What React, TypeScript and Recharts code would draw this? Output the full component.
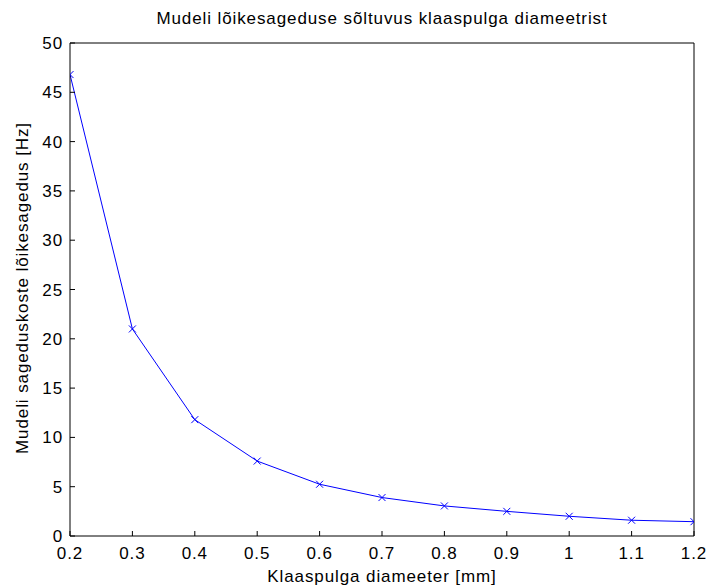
import { LineChart, Line, XAxis, YAxis, Label } from 'recharts';

// diameter of the glass rod [mm] and model cutoff frequency [Hz]
const diameters = [0.2, 0.3, 0.4, 0.5, 0.6, 0.7, 0.8, 0.9, 1.0, 1.1, 1.2];
const cutoffHz = [46.8, 21.0, 11.8, 7.6, 5.25, 3.9, 3.05, 2.5, 2.0, 1.6, 1.45];

const xTicks = [0.2, 0.3, 0.4, 0.5, 0.6, 0.7, 0.8, 0.9, 1, 1.1, 1.2];
const yTicks = [0, 5, 10, 15, 20, 25, 30, 35, 40, 45, 50];

const TITLE = 'Mudeli lõikesageduse sõltuvus klaaspulga diameetrist';
const X_LABEL = 'Klaaspulga diameeter [mm]';
const Y_LABEL = 'Mudeli sageduskoste lõikesagedus [Hz]';

const data = diameters.map((d, i) => ({ d, f: cutoffHz[i] }));

const FONT = '"Liberation Sans", Arial, sans-serif';
const FS = 17;
const LS = 0.9;
const tickStyle = { fontSize: FS, fill: '#000', fontFamily: FONT, letterSpacing: LS };
const axisLine = { stroke: '#000', strokeWidth: 1 };

// small "x" marker like matlab's 'x-' style
function Cross(props: any) {
  const { cx, cy, index } = props;
  const r = 3.5;
  return (
    <path
      key={`m-${index}`}
      d={`M${cx - r},${cy - r}L${cx + r},${cy + r}M${cx - r},${cy + r}L${cx + r},${cy - r}`}
      stroke="#0000ff"
      strokeWidth={1}
      fill="none"
    />
  );
}

export default function App() {
  return (
    <div style={{ position: 'absolute', left: 0, top: 0, width: 706, height: 587, background: '#fff' }}>
      <LineChart
        width={706}
        height={587}
        data={data}
        margin={{ top: 13, right: 0, bottom: 21, left: 10 }}
      >
        <XAxis
          xAxisId="b"
          dataKey="d"
          type="number"
          domain={[0.2, 1.2]}
          ticks={xTicks}
          tickFormatter={(v) => String(v)}
          height={30}
          tickSize={-5}
          tickMargin={16}
          tick={tickStyle}
          axisLine={axisLine}
          tickLine={axisLine}
          allowDataOverflow
        >
          <Label
            content={() => (
              <text
                x={382}
                y={582}
                textAnchor="middle"
                fontSize={FS}
                fontFamily={FONT}
                letterSpacing={LS}
                fill="#000"
              >
                {X_LABEL}
              </text>
            )}
          />
        </XAxis>
        <XAxis
          xAxisId="t"
          dataKey="d"
          type="number"
          orientation="top"
          domain={[0.2, 1.2]}
          ticks={xTicks}
          height={30}
          tickSize={-5}
          tick={false}
          axisLine={axisLine}
          tickLine={axisLine}
          allowDataOverflow
        />
        <YAxis
          yAxisId="l"
          type="number"
          domain={[0, 50]}
          ticks={yTicks}
          width={60}
          tickSize={-5}
          tickMargin={12}
          tick={tickStyle}
          axisLine={axisLine}
          tickLine={axisLine}
          allowDataOverflow
        >
          <Label
            content={() => (
              <text
                x={0}
                y={0}
                transform="translate(28,288) rotate(-90)"
                textAnchor="middle"
                fontSize={FS}
                fontFamily={FONT}
                letterSpacing={LS}
                fill="#000"
              >
                {Y_LABEL}
              </text>
            )}
          />
        </YAxis>
        <YAxis
          yAxisId="r"
          orientation="right"
          type="number"
          domain={[0, 50]}
          ticks={yTicks}
          width={12}
          tickSize={-5}
          tick={false}
          axisLine={axisLine}
          tickLine={axisLine}
          allowDataOverflow
        />
        <Line
          xAxisId="b"
          yAxisId="l"
          type="linear"
          dataKey="f"
          stroke="#0000ff"
          strokeWidth={1}
          dot={Cross}
          activeDot={false}
          isAnimationActive={false}
        />
      </LineChart>
      <div
        style={{
          position: 'absolute',
          left: 70,
          width: 624,
          top: 9,
          textAlign: 'center',
          fontFamily: FONT,
          fontSize: FS,
          letterSpacing: LS,
          color: '#000',
          whiteSpace: 'nowrap',
        }}
      >
        {TITLE}
      </div>
    </div>
  );
}
